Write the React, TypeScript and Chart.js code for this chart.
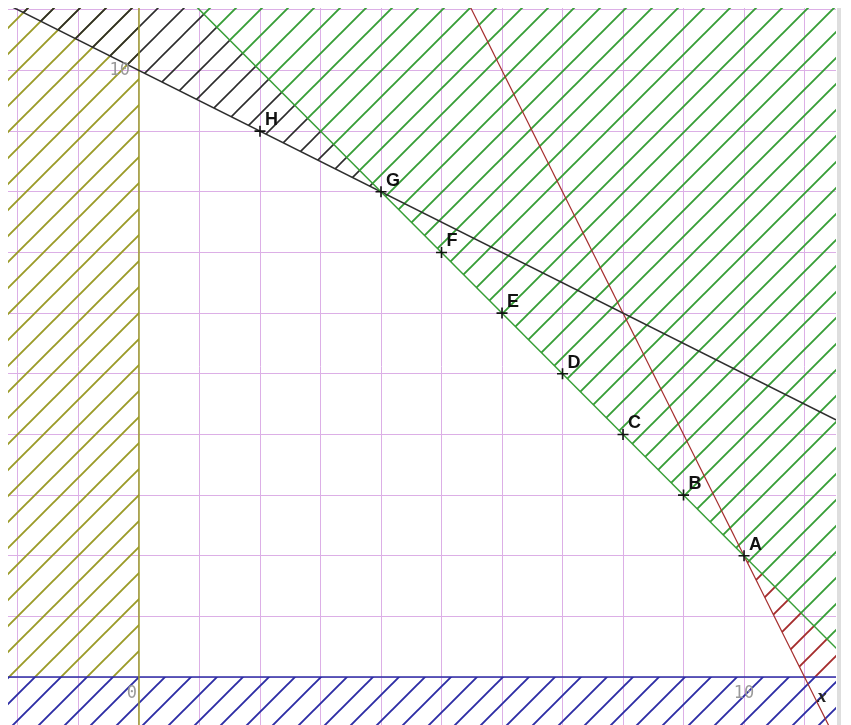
import React, { useEffect, useRef } from 'react';
import { Chart, registerables } from 'chart.js';

Chart.register(...registerables);

// Axis window
const X_MIN = -2.165;
const X_MAX = 11.52;
const Y_MIN = -0.79;
const Y_MAX = 11.03;

// Named points
const pointNames = ['A', 'B', 'C', 'D', 'E', 'F', 'G', 'H'];
const pointX = [10, 9, 8, 7, 6, 5, 4, 2];
const pointY = [2, 3, 4, 5, 6, 7, 8, 9];

// Boundary lines (endpoints)
const greenX = [-3, 12]; // x + y = 12
const greenY = [15, 0];
const blackX = [-3, 12]; // x + 2y = 20
const blackY = [11.5, 4];
const redX = [5, 11.6]; // 2x + y = 22
const redY = [12, -1.2];
const redHatchX = [10, 11, 12];
const redHatchY = [2, 0, 0];
const oliveX = [0, 0]; // x = 0
const oliveY = [-2, 12];
const oliveHatchX = [-3, 0];
const oliveHatchY = [12, 12];
const blueX = [-3, 12]; // y = 0
const blueY = [0, 0];

// Axis labels
const xTickValues = [0, 10];
const xTickTexts = ['0', '10'];
const yTickValues = [10];
const yTickTexts = ['10'];
const xAxisName = 'x';

const GREEN = 'rgb(55,158,55)';
const BLACK = 'rgb(45,45,45)';
const RED = 'rgb(165,45,45)';
const OLIVE = 'rgb(155,155,40)';
const BLUE = 'rgb(45,45,165)';
const GRID = 'rgb(220,175,230)';

function hatch(color: string, period = 26, phase = 20, lw = 1.9): CanvasPattern | string {
  const c = document.createElement('canvas');
  c.width = period;
  c.height = period;
  const g = c.getContext('2d');
  if (!g) return color;
  g.strokeStyle = color;
  g.lineWidth = lw;
  g.beginPath();
  g.moveTo(-2, period + 2);
  g.lineTo(period + 2, -2);
  g.moveTo(-3, 3);
  g.lineTo(3, -3);
  g.moveTo(period - 3, period + 3);
  g.lineTo(period + 3, period - 3);
  g.stroke();
  const p = g.createPattern(c, 'repeat');
  if (!p) return color;
  try {
    p.setTransform(new DOMMatrix().translateSelf(phase, 0));
  } catch (e) {}
  return p;
}

const mk = (xs: number[], ys: number[]) => xs.map((x, i) => ({ x, y: ys[i] }));

const labelsPlugin = {
  id: 'labelsPlugin',
  afterDatasetsDraw(chart: any) {
    const ctx = chart.ctx as CanvasRenderingContext2D;
    const xs = chart.scales.x;
    const ys = chart.scales.y;
    const meta = chart.getDatasetMeta(0);
    ctx.save();
    ctx.font = 'bold 18px "Liberation Sans", Arial, sans-serif';
    ctx.fillStyle = '#111';
    ctx.textAlign = 'left';
    ctx.textBaseline = 'alphabetic';
    meta.data.forEach((el: any, i: number) => {
      ctx.fillText(pointNames[i], el.x + 5, el.y - 6);
    });

    ctx.font = '17px "DejaVu Sans Mono", monospace';
    ctx.fillStyle = '#9a9a9a';
    ctx.textBaseline = 'middle';
    const y0 = ys.getPixelForValue(0);
    const x0 = xs.getPixelForValue(0);
    xTickValues.forEach((v, i) => {
      const px = xs.getPixelForValue(v);
      if (v === 0) {
        ctx.textAlign = 'right';
        ctx.fillText(xTickTexts[i], px - 2, y0 + 16);
      } else {
        ctx.textAlign = 'center';
        ctx.fillText(xTickTexts[i], px, y0 + 16);
      }
    });
    yTickValues.forEach((v, i) => {
      ctx.textAlign = 'right';
      ctx.fillText(yTickTexts[i], x0 - 9, ys.getPixelForValue(v));
    });

    ctx.font = 'italic bold 19px "Liberation Serif", serif';
    ctx.fillStyle = '#222';
    ctx.textAlign = 'center';
    ctx.fillText(xAxisName, chart.chartArea.right - 14, y0 + 20);
    ctx.restore();
  },
};

const intTicks = (axis: any) => {
  axis.ticks = axis.ticks.filter((t: any) => Math.abs(t.value - Math.round(t.value)) < 1e-9);
};

export default function App() {
  const ref = useRef<HTMLCanvasElement>(null);
  useEffect(() => {
    if (!ref.current) return;
    const chart = new Chart(ref.current, {
      type: 'line',
      data: {
        datasets: [
          {
            label: 'points',
            data: mk(pointX, pointY),
            showLine: false,
            pointStyle: 'cross',
            pointRadius: 5.5,
            borderColor: '#111',
            backgroundColor: '#111',
            borderWidth: 1.6,
            order: 0,
          },
          {
            label: 'x + y = 12',
            data: mk(greenX, greenY),
            borderColor: GREEN,
            borderWidth: 1.5,
            pointRadius: 0,
            fill: 'end',
            backgroundColor: hatch(GREEN) as any,
            order: 1,
          },
          {
            label: 'x + 2y = 20',
            data: mk(blackX, blackY),
            borderColor: BLACK,
            borderWidth: 1.5,
            pointRadius: 0,
            fill: { target: 1, above: 'rgba(0,0,0,0)', below: hatch(BLACK, 26, 20, 1.6) as any },
            order: 2,
          },
          {
            label: '2x + y = 22',
            data: mk(redX, redY),
            borderColor: RED,
            borderWidth: 1.2,
            pointRadius: 0,
            fill: false,
            order: 3,
          },
          {
            label: 'red hatch',
            data: mk(redHatchX, redHatchY),
            borderColor: 'rgba(0,0,0,0)',
            borderWidth: 0,
            pointRadius: 0,
            fill: { target: 1, above: 'rgba(0,0,0,0)', below: hatch(RED) as any },
            order: 4,
          },
          {
            label: 'x = 0',
            data: mk(oliveX, oliveY),
            borderColor: OLIVE,
            borderWidth: 1.5,
            pointRadius: 0,
            fill: false,
            order: 5,
          },
          {
            label: 'olive hatch',
            data: mk(oliveHatchX, oliveHatchY),
            borderColor: 'rgba(0,0,0,0)',
            borderWidth: 0,
            pointRadius: 0,
            fill: { value: 0 },
            backgroundColor: hatch(OLIVE) as any,
            order: 6,
          },
          {
            label: 'y = 0',
            data: mk(blueX, blueY),
            borderColor: BLUE,
            borderWidth: 1.5,
            pointRadius: 0,
            fill: 'start',
            backgroundColor: hatch(BLUE) as any,
            order: 7,
          },
        ],
      } as any,
      options: {
        animation: false,
        responsive: false,
        devicePixelRatio: 1,
        layout: { padding: 0, autoPadding: false },
        events: [],
        plugins: {
          legend: { display: false },
          tooltip: { enabled: false },
          filler: { drawTime: 'beforeDatasetsDraw' },
        } as any,
        scales: {
          x: {
            type: 'linear',
            min: X_MIN,
            max: X_MAX,
            ticks: { display: false, stepSize: 1, includeBounds: false } as any,
            grid: { color: GRID, drawTicks: false, lineWidth: 1 },
            border: { display: false },
            afterBuildTicks: intTicks,
          },
          y: {
            type: 'linear',
            min: Y_MIN,
            max: Y_MAX,
            ticks: { display: false, stepSize: 1, includeBounds: false } as any,
            grid: { color: GRID, drawTicks: false, lineWidth: 1 },
            border: { display: false },
            afterBuildTicks: intTicks,
          },
        },
      } as any,
      plugins: [labelsPlugin],
    });
    return () => chart.destroy();
  }, []);

  return (
    <div style={{ position: 'relative', width: 833, height: 717 }}>
      <canvas ref={ref} width={828} height={717} style={{ display: 'block', width: 828, height: 717 }} />
      <div style={{ position: 'absolute', left: 829, top: 0, width: 4, height: 717, background: '#dedede' }} />
    </div>
  );
}
